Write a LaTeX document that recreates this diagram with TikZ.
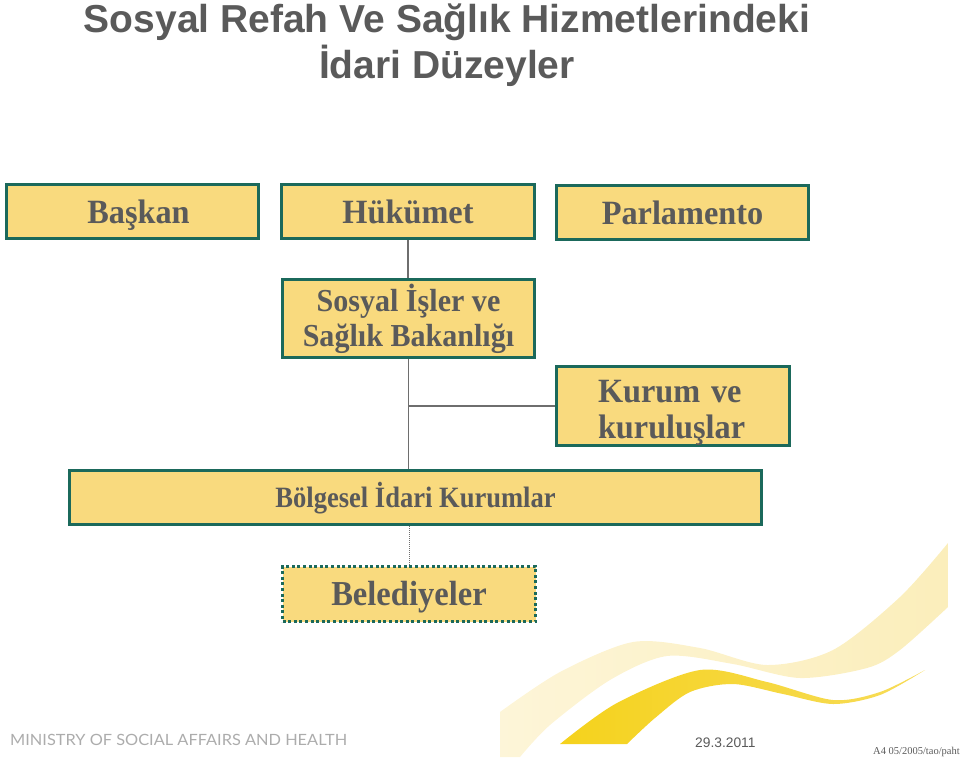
\documentclass[tikz,border=0pt]{standalone}
\usepackage{fontspec}
\setmainfont{Liberation Serif}
\newfontfamily\titlefont{Liberation Sans}
\newfontfamily\footfont{Lato}
\definecolor{boxfill}{HTML}{F9DA7E}
\definecolor{boxline}{HTML}{1B695B}
\definecolor{txtgray}{HTML}{5A5A5A}
\definecolor{linegray}{HTML}{6E6E6E}
\definecolor{swlight}{HTML}{FBEEBB}
\definecolor{swlighter}{HTML}{FDF5D8}
\definecolor{swdark}{HTML}{F5D21C}
\definecolor{swdarktip}{HTML}{F7DC5A}
\tikzset{
  orgbox/.style={draw=boxline, line width=3pt, fill=boxfill, rectangle,
    inner sep=0pt, text=txtgray, font=\fontsize{34}{38}\selectfont\bfseries},
  oneline/.style={text height=23pt, text depth=0pt},
  dotbox/.style={orgbox, dash pattern=on 3pt off 2.6pt},
  conn/.style={draw=linegray, line width=1.3pt},
  dotconn/.style={draw=linegray, line width=0.8pt, dash pattern=on 1pt off 1pt},
}
\begin{document}
\begin{tikzpicture}[x=1pt,y=-1pt]
\useasboundingbox (0,0) rectangle (960,757);
% swooshes
\shade[left color=swlighter, right color=swlight]
  plot[smooth] coordinates {(500,712) (560,672) (633,642) (700,648) (767,665) (833,650) (900,597) (948,543)}
  -- (948,607)
  -- plot[smooth] coordinates {(948,607) (900,650) (867,668) (800,678) (733,664) (667,656) (610,680) (550,725) (520,757)}
  -- (500,757) -- cycle;
\shade[left color=swdark, right color=swdarktip]
  plot[smooth] coordinates {(560,744) (617,703) (700,670) (767,682) (833,700) (880,692) (925,670)}
  -- plot[smooth] coordinates {(925,670) (880,695) (833,704) (783,694) (733,684) (690,692) (655,718) (627,744)}
  -- cycle;
% title
\node[anchor=base, text=txtgray, font=\titlefont\fontsize{39}{45}\selectfont\bfseries] (t1) at (447,33) {Sosyal Refah Ve Sağlık Hizmetlerindeki};
\node[anchor=base, text=txtgray, font=\titlefont\fontsize{39}{45}\selectfont\bfseries] (t2) at (447,79) {İdari Düzeyler};
% boxes
\node[orgbox, oneline, minimum width=252pt, minimum height=54pt] (bas) at (132.5,211.5) {\hspace*{12pt}\scalebox{0.95}[1]{Başkan}};
\node[orgbox, oneline, minimum width=253pt, minimum height=54pt] (huk) at (408,211.5) {\scalebox{0.95}[1]{Hükümet}};
\node[orgbox, oneline, minimum width=252pt, minimum height=54pt] (par) at (682.5,212.5) {\scalebox{0.95}[1]{Parlamento}};
\node[orgbox, align=center, font=\fontsize{32}{35}\selectfont\bfseries, minimum width=252pt, minimum height=78pt] (sos) at (408.5,318.5) {\scalebox{0.94}[1]{Sosyal İşler ve}\\\scalebox{0.94}[1]{Sağlık Bakanlığı}};
\node[orgbox, align=left, text width=150pt, font=\fontsize{34}{36}\selectfont\bfseries, minimum width=233pt, minimum height=77pt] (kur) at (673,406) {\rule{0pt}{36pt}\scalebox{0.95}[1]{Kurum ve}\\\scalebox{0.95}[1]{kuruluşlar}};
\node[orgbox, text height=20pt, text depth=0pt, minimum width=692pt, minimum height=54pt] (bol) at (415.5,497.5) {\fontsize{29.5}{33}\selectfont\bfseries\scalebox{0.9}[1]{Bölgesel İdari Kurumlar}};
\node[dotbox, text height=23pt, text depth=0pt, minimum width=253pt, minimum height=55pt] (bel) at (409,594) {\fontsize{35}{38}\selectfont\bfseries\scalebox{0.93}[1]{Belediyeler}};
% connectors
\draw[conn] (huk.south) -- (huk.south |- sos.north);
\draw[conn] (sos.south) -- (sos.south |- bol.north);
\draw[conn] (sos.south |- kur.west) -- (kur.west);
\draw[dotconn] (bel.north |- bol.south) -- (bel.north);
% footer
\node[anchor=base west, inner sep=0pt, text=gray!65, font=\footfont\fontsize{15.5}{18}\selectfont] (min) at (10,745) {\scalebox{1.055}[1]{MINISTRY OF SOCIAL AFFAIRS AND HEALTH}};
\node[anchor=base west, inner sep=0pt, text=txtgray, font=\titlefont\fontsize{13.8}{16}\selectfont] (date) at (695,747) {29.3.2011};
\node[anchor=base east, inner sep=0pt, text=txtgray, font=\fontsize{10.5}{12}\selectfont] (code) at (960,754) {A4 05/2005/tao/paht};
\end{tikzpicture}
\end{document}
